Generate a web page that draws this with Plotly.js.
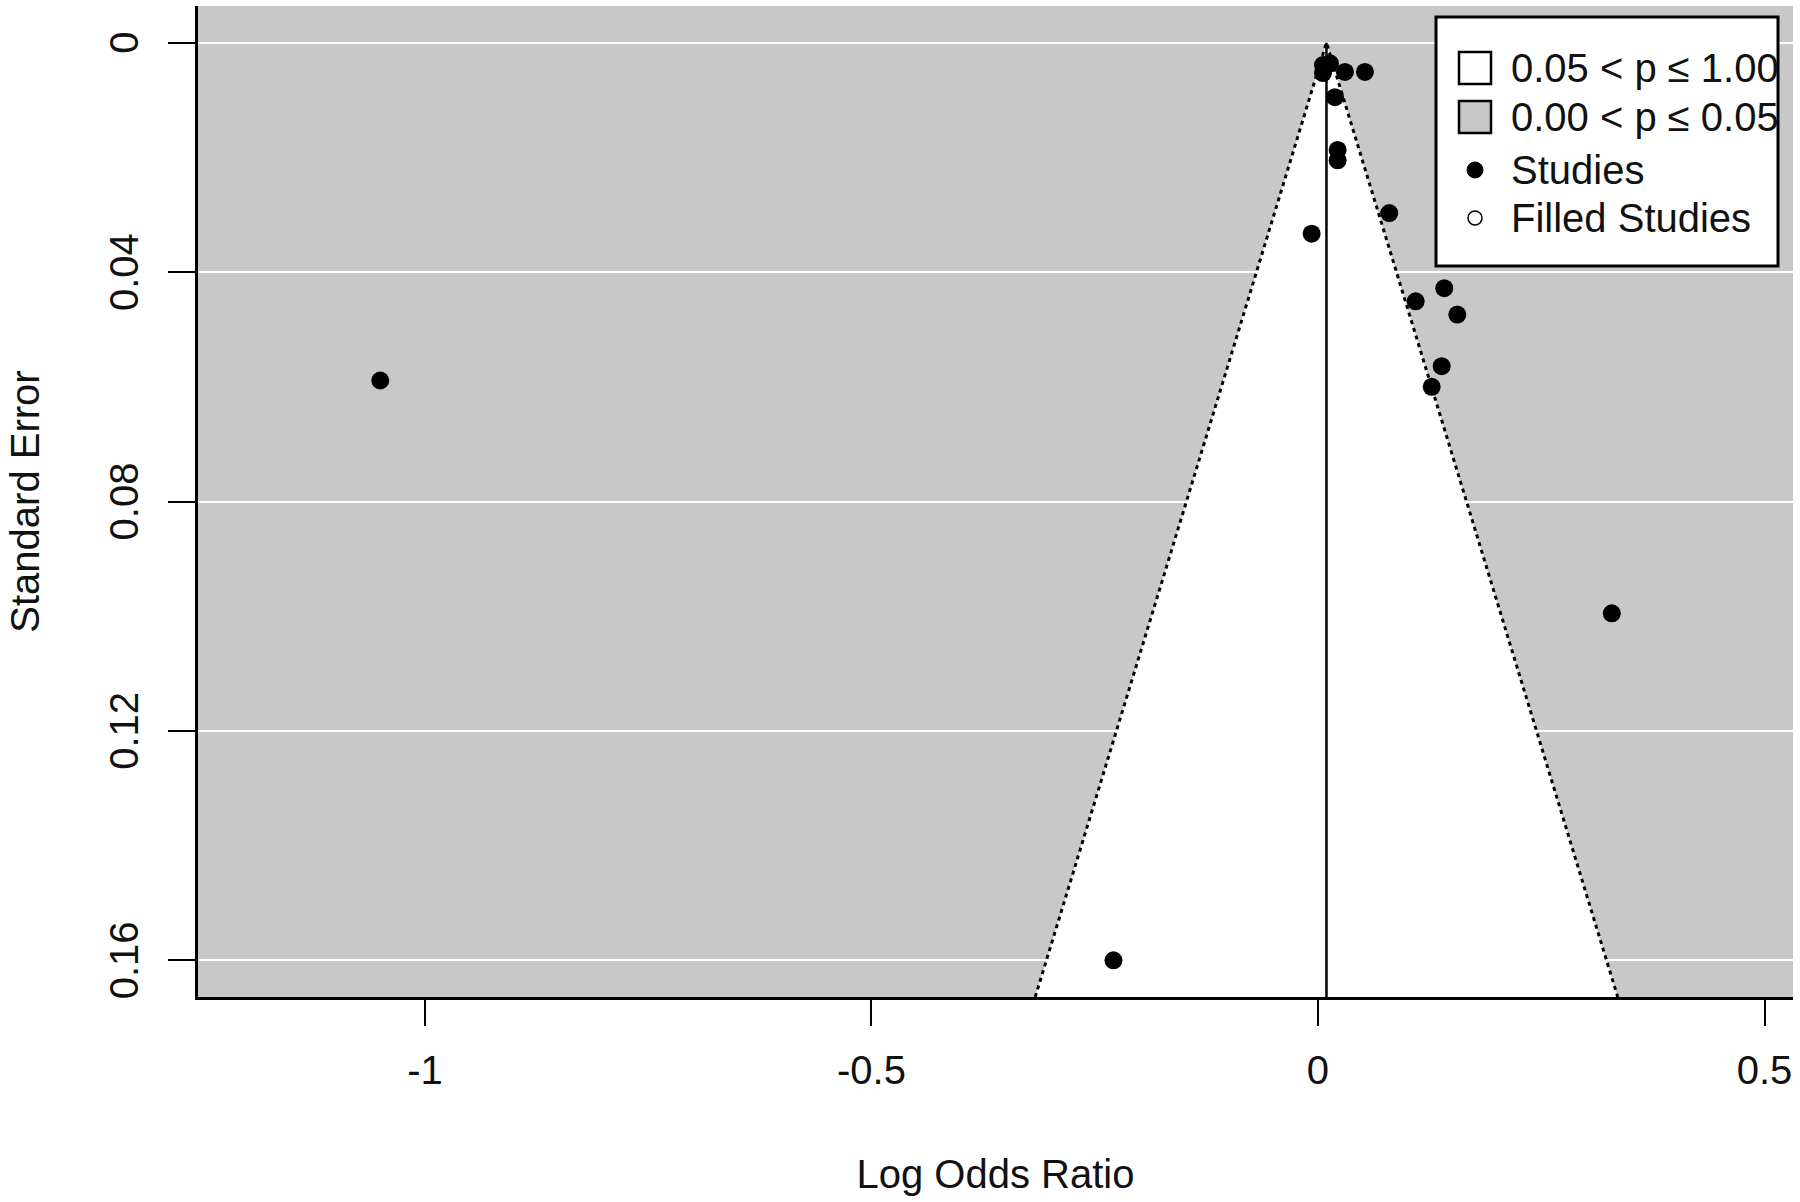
<!DOCTYPE html>
<html>
<head>
<meta charset="utf-8">
<script src="https://cdn.plot.ly/plotly-3.0.1.min.js"></script>
<style>html,body{margin:0;padding:0;background:#fff;}#chart{width:1800px;height:1202px;}</style>
</head>
<body>
<div id="chart"></div>
<script>
// ---- Data ----
const studyLogOR = [0.0056, 0.0134, 0.0056, 0.0302, 0.0526, 0.0190, 0.0220, 0.0220, 0.0798, -0.0071,
                    0.1414, 0.1094, 0.1560, 0.1385, 0.1273, -1.0500, 0.3290, -0.2290];
const studySE    = [0.0039, 0.0036, 0.0053, 0.0051, 0.0051, 0.0095, 0.0187, 0.0205, 0.0297, 0.0333,
                    0.0428, 0.0451, 0.0474, 0.0564, 0.0600, 0.0589, 0.0995, 0.1600];
const filledLogOR = [];
const filledSE = [];
const pooledEstimate = 0.0095;
const zCrit = 1.96;

const xTickVals = [-1, -0.5, 0, 0.5];
const xTickText = ["-1", "-0.5", "0", "0.5"];
const yTickVals = [0, 0.04, 0.08, 0.12, 0.16];
const yTickText = ["0", "0.04", "0.08", "0.12", "0.16"];
const legendLabels = ["0.05 < p \u2264 1.00", "0.00 < p \u2264 0.05", "Studies", "Filled Studies"];

const xRange = [-1.2541, 0.5319];
const yRange = [0.1664, -0.0064];
const seBottom = yRange[0];

const FONT = "Liberation Sans, Arial, sans-serif";
const GRAY = "#c8c8c8";

const traces = [
  { // white (non-significant) region
    x: [pooledEstimate - zCrit * seBottom, pooledEstimate, pooledEstimate + zCrit * seBottom],
    y: [seBottom, 0, seBottom],
    type: "scatter", mode: "lines", fill: "toself", fillcolor: "#ffffff",
    line: { color: "#000000", width: 3, dash: "4px,4px" },
    hoverinfo: "skip", showlegend: false, name: legendLabels[0]
  },
  { // vertical reference line
    x: [pooledEstimate, pooledEstimate], y: [0, seBottom],
    type: "scatter", mode: "lines", line: { color: "#000000", width: 2.5 },
    hoverinfo: "skip", showlegend: false
  },
  {
    x: studyLogOR, y: studySE, type: "scatter", mode: "markers", name: legendLabels[2],
    marker: { color: "#000000", size: 18, line: { width: 0 } }, showlegend: false
  },
  {
    x: filledLogOR, y: filledSE, type: "scatter", mode: "markers", name: legendLabels[3],
    marker: { color: "#ffffff", size: 15, line: { color: "#000000", width: 1.5 } }, showlegend: false
  }
];

// legend (manual) in pixel terms converted to paper
const plotL = 198, plotR = 1793, plotT = 6, plotB = 997;
const px = X => (X - plotL) / (plotR - plotL);
const py = Y => (plotB - Y) / (plotB - plotT);

const rowY = [68, 117, 170, 218];
const shapes = [
  { type: "rect", xref: "paper", yref: "paper", x0: px(1436), x1: px(1778), y0: py(266), y1: py(17),
    fillcolor: "#ffffff", line: { color: "#000000", width: 3 }, layer: "above" },
  { type: "rect", xref: "paper", yref: "paper", x0: px(1459), x1: px(1491), y0: py(rowY[0] + 16), y1: py(rowY[0] - 16),
    fillcolor: "#ffffff", line: { color: "#000000", width: 2.5 }, layer: "above" },
  { type: "rect", xref: "paper", yref: "paper", x0: px(1459), x1: px(1491), y0: py(rowY[1] + 16), y1: py(rowY[1] - 16),
    fillcolor: GRAY, line: { color: "#000000", width: 2.5 }, layer: "above" },
  { type: "circle", xref: "paper", yref: "paper", xsizemode: "pixel", ysizemode: "pixel",
    xanchor: px(1475), yanchor: py(rowY[2]), x0: -8, x1: 8, y0: -8, y1: 8,
    fillcolor: "#000000", line: { color: "#000000", width: 1 }, layer: "above" },
  { type: "circle", xref: "paper", yref: "paper", xsizemode: "pixel", ysizemode: "pixel",
    xanchor: px(1475), yanchor: py(rowY[3]), x0: -7, x1: 7, y0: -7, y1: 7,
    fillcolor: "#ffffff", line: { color: "#000000", width: 1.5 }, layer: "above" }
];
const annotations = legendLabels.map((t, i) => ({
  text: t, xref: "paper", yref: "paper", x: px(1509), y: py(rowY[i]),
  xanchor: "left", yanchor: "middle", showarrow: false,
  font: { family: FONT, size: 40, color: "#111111" }
}));

const layout = {
  width: 1800, height: 1202,
  margin: { l: plotL, r: 1800 - plotR, t: plotT, b: 1202 - plotB, pad: 0 },
  paper_bgcolor: "#ffffff", plot_bgcolor: GRAY,
  font: { family: FONT, size: 40, color: "#111111" },
  showlegend: false,
  xaxis: {
    range: xRange, tickvals: xTickVals, ticktext: xTickText,
    showgrid: false, zeroline: false, showline: true, linecolor: "#000000", linewidth: 3,
    ticks: "outside", ticklen: 26, tickwidth: 2, tickcolor: "#000000",
    ticklabelstandoff: 10,
    tickfont: { family: FONT, size: 40, color: "#111111" },
    title: { text: "Log Odds Ratio", font: { family: FONT, size: 40, color: "#111111" }, standoff: 69 },
    automargin: false
  },
  yaxis: {
    range: yRange, tickvals: yTickVals, ticktext: yTickText, tickangle: -90,
    showgrid: true, gridcolor: "#ffffff", gridwidth: 2, zeroline: false,
    showline: true, linecolor: "#000000", linewidth: 3,
    ticks: "outside", ticklen: 27, tickwidth: 2, tickcolor: "#000000",
    ticklabelstandoff: 14, ticklabelshift: -6,
    tickfont: { family: FONT, size: 40, color: "#111111" },
    title: { text: "Standard Error", font: { family: FONT, size: 40, color: "#111111" }, standoff: 51 },
    automargin: false
  },
  shapes: shapes,
  annotations: annotations
};

Plotly.newPlot("chart", traces, layout, { displayModeBar: false, staticPlot: true });
</script>
</body>
</html>
